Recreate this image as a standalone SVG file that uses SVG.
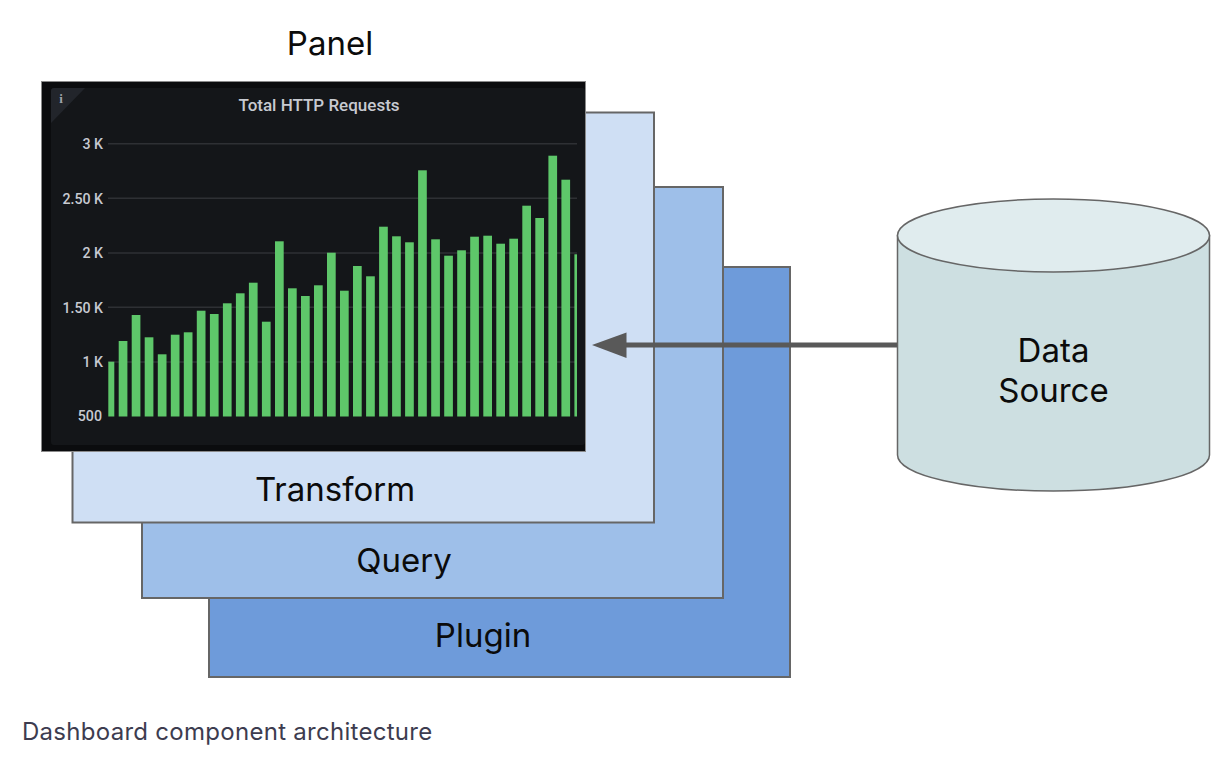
<svg xmlns="http://www.w3.org/2000/svg" width="1226" height="759" viewBox="0 0 1226 759">
<style>
.layer{stroke:#666;stroke-width:2}
.lbl{font-family:Inter,"Liberation Sans",sans-serif;font-size:33px;fill:#0b0b0b;text-anchor:middle}
.axis{font-family:Roboto,"Liberation Sans",sans-serif;font-size:14.200px;font-weight:500;fill:#c7cad1;text-anchor:end}
.grid{stroke:#2e3034;stroke-width:1.500}
.bars rect{fill:#5ec76a}
</style>
<rect width="1226" height="759" fill="#fff"/>
<g id="plugin"><rect class="layer" x="209" y="267" width="581" height="410" fill="#6e9bda"/><text class="lbl" x="483" y="647">Plugin</text></g>
<g id="query"><rect class="layer" x="142" y="187" width="581" height="411" fill="#9ebfe9"/><text class="lbl" x="404" y="572">Query</text></g>
<g id="transform"><rect class="layer" x="72.500" y="112.500" width="581.500" height="410" fill="#cfdff4"/><text class="lbl" x="335" y="500.500">Transform</text></g>
<g id="panel">
<rect x="41.500" y="81.500" width="544" height="370" fill="#0b0c0e" stroke="#8a8a8a" stroke-width="1"/>
<rect x="51" y="88" width="534" height="357" rx="3" fill="#141619"/>
<path d="M51 91a3 3 0 0 1 3-3H85L51 123Z" fill="#22252b"/>
<text x="61" y="103" font-family="'Liberation Serif',serif" font-size="13" font-weight="700" fill="#9fa3aa" text-anchor="middle">i</text>
<text x="319" y="111" font-family="Roboto,'Liberation Sans',sans-serif" font-size="17" font-weight="500" fill="#c7cad1" text-anchor="middle">Total HTTP Requests</text>
<g>
<line class="grid" x1="108" y1="143.700" x2="577" y2="143.700"/>
<line class="grid" x1="108" y1="198.300" x2="577" y2="198.300"/>
<line class="grid" x1="108" y1="253" x2="577" y2="253"/>
<line class="grid" x1="108" y1="307.300" x2="577" y2="307.300"/>
<line class="grid" x1="108" y1="362" x2="577" y2="362"/>
</g>
<g>
<text class="axis" x="103" y="149">3 K</text>
<text class="axis" x="103" y="203.500">2.50 K</text>
<text class="axis" x="103" y="258">2 K</text>
<text class="axis" x="103" y="312.500">1.50 K</text>
<text class="axis" x="103" y="367">1 K</text>
<text class="axis" x="102" y="421">500</text>
</g>
<g class="bars">
<rect x="108.300" y="361.700" width="6" height="54.800"/>
<rect x="118.700" y="341" width="8.700" height="75.500"/>
<rect x="131.700" y="315" width="8.700" height="101.500"/>
<rect x="144.700" y="337.300" width="8.700" height="79.200"/>
<rect x="157.800" y="354.300" width="8.700" height="62.200"/>
<rect x="170.800" y="334.700" width="8.700" height="81.800"/>
<rect x="183.800" y="332.300" width="8.700" height="84.200"/>
<rect x="196.800" y="310.700" width="8.700" height="105.800"/>
<rect x="209.900" y="314" width="8.700" height="102.500"/>
<rect x="222.900" y="303.300" width="8.700" height="113.200"/>
<rect x="235.900" y="293.300" width="8.700" height="123.200"/>
<rect x="248.900" y="282.700" width="8.700" height="133.800"/>
<rect x="261.900" y="321.700" width="8.700" height="94.800"/>
<rect x="275" y="241.300" width="8.700" height="175.200"/>
<rect x="288" y="288.300" width="8.700" height="128.200"/>
<rect x="301" y="296" width="8.700" height="120.500"/>
<rect x="314" y="285.300" width="8.700" height="131.200"/>
<rect x="327" y="252.700" width="8.700" height="163.800"/>
<rect x="340" y="290.700" width="8.700" height="125.800"/>
<rect x="353" y="266" width="8.700" height="150.500"/>
<rect x="366.100" y="276.300" width="8.700" height="140.200"/>
<rect x="379.100" y="226.700" width="8.700" height="189.800"/>
<rect x="392.100" y="236.300" width="8.700" height="180.200"/>
<rect x="405.100" y="242.300" width="8.700" height="174.200"/>
<rect x="418.100" y="170.300" width="8.700" height="246.200"/>
<rect x="431.200" y="239.300" width="8.700" height="177.200"/>
<rect x="444.200" y="255.700" width="8.700" height="160.800"/>
<rect x="457.200" y="250.300" width="8.700" height="166.200"/>
<rect x="470.200" y="236.700" width="8.700" height="179.800"/>
<rect x="483.300" y="235.700" width="8.700" height="180.800"/>
<rect x="496.300" y="243.700" width="8.700" height="172.800"/>
<rect x="509.300" y="238.700" width="8.700" height="177.800"/>
<rect x="522.300" y="205.700" width="8.700" height="210.800"/>
<rect x="535.300" y="218" width="8.700" height="198.500"/>
<rect x="548.400" y="155.700" width="8.700" height="260.800"/>
<rect x="561.400" y="179.700" width="8.700" height="236.800"/>
<rect x="574.400" y="254.300" width="2.600" height="162.200"/>
</g>
</g>
<text class="lbl" x="330" y="55">Panel</text>
<g id="data-source">
<path d="M897.500 235.500V455C897.500 475 967 491 1053.500 491S1209.500 475 1209.500 455V235.500Z" fill="#cddfe1" stroke="#666" stroke-width="1.500"/>
<ellipse cx="1053.500" cy="235.500" rx="156" ry="36.500" fill="#e0ecee" stroke="#666" stroke-width="1.500"/>
<text class="lbl" x="1053.500" y="362">Data</text>
<text class="lbl" x="1053.500" y="401.500">Source</text>
</g>
<g id="connectors">
<path d="M897 345H626" stroke="#595959" stroke-width="5" fill="none"/>
<path d="M592 345L626.500 332.500V358Z" fill="#595959"/>
</g>
<text x="22" y="739.500" font-family="Inter,'Liberation Sans',sans-serif" font-size="24" letter-spacing="0.280" fill="#3d3c4f">Dashboard component architecture</text>
</svg>
